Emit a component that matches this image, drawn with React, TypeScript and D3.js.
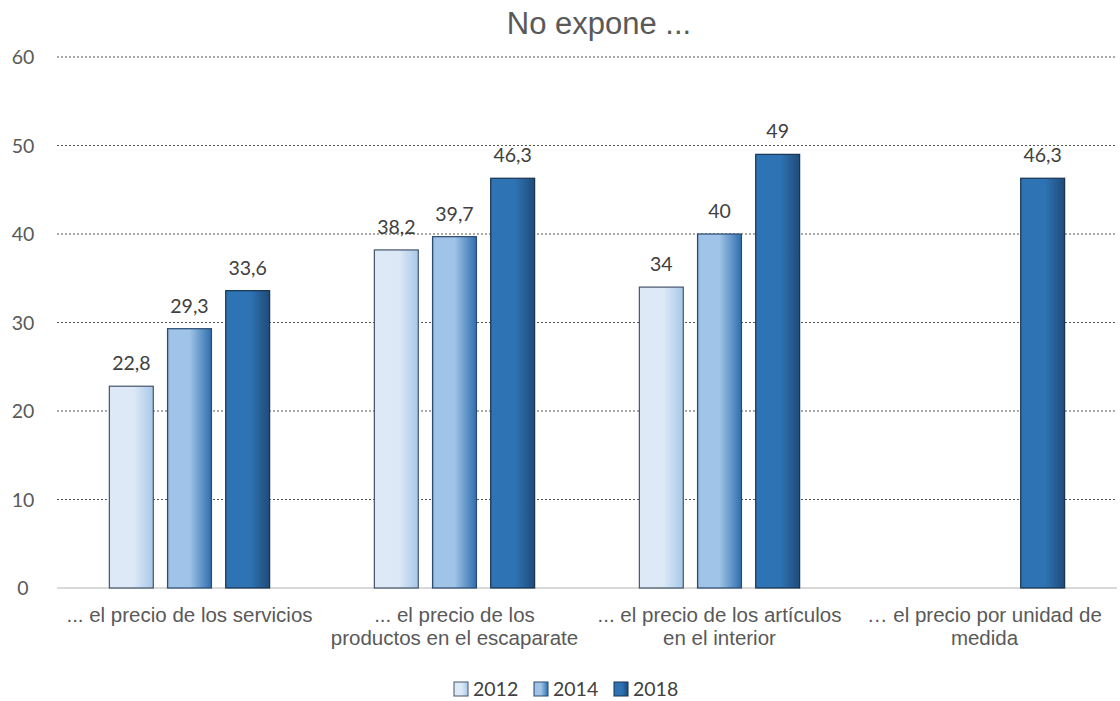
import React from "react";
import * as d3 from "d3";

const categories = [
  ["... el precio de los servicios"],
  ["... el precio de los", "productos en el escaparate"],
  ["... el precio de los artículos", "en el interior"],
  ["… el precio por unidad de", "medida"],
];
const seriesNames = ["2012", "2014", "2018"];
const v2012: (number | null)[] = [22.8, 38.2, 34, null];
const v2014: (number | null)[] = [29.3, 39.7, 40, null];
const v2018: (number | null)[] = [33.6, 46.3, 49, 46.3];
const yTicks = [0, 10, 20, 30, 40, 50, 60];

const W = 1120, H = 701;
const left = 57, right = 1117, top = 57, bottom = 588;

const grads = [
  { id: "g2012", stops: [["0%", "#dde9f6"], ["55%", "#dde9f6"], ["100%", "#a8c8e9"]], stroke: "#44546a" },
  { id: "g2014", stops: [["0%", "#7fa3c8"], ["5%", "#9fc4e7"], ["50%", "#9fc4e7"], ["100%", "#2f6eae"]], stroke: "#2a4a6e" },
  { id: "g2018", stops: [["0%", "#2e74b5"], ["55%", "#2e74b5"], ["100%", "#1f4b78"]], stroke: "#17324f" },
];

export default function App() {
  const x0 = d3.scaleBand<number>().domain(d3.range(categories.length)).range([left, right]);
  const x1 = d3.scaleBand<number>().domain([0, 1, 2]).range([0, x0.bandwidth()]).paddingInner(0.245).paddingOuter(0.9);
  const y = d3.scaleLinear().domain([0, 60]).range([bottom, top]);
  const series = [v2012, v2014, v2018];
  const fmt = (v: number) => String(v).replace(".", ",");
  return (
    <svg width={W} height={H} style={{ position: "absolute", left: 0, top: 0, background: "#fff" }}>
      <defs>
        {grads.map((g) => (
          <linearGradient key={g.id} id={g.id} x1="0" x2="1" y1="0" y2="0">
            {g.stops.map(([o, c], i) => <stop key={i} offset={o} stopColor={c} />)}
          </linearGradient>
        ))}
      </defs>
      <text x={599} y={34} textAnchor="middle" fontFamily="Liberation Sans, Arial" fontSize={31} fill="#595959">No expone ...</text>
      {yTicks.map((t) => (
        <g key={t}>
          {t > 0 && <line x1={left} x2={right} y1={y(t)} y2={y(t)} stroke="#555" strokeWidth={1} strokeDasharray="2,2" />}
          <text x={23} y={y(t) + 7} textAnchor="middle" fontFamily="Lato, Carlito, sans-serif" fontSize={19.5} fill="#595959">{t}</text>
        </g>
      ))}
      <line x1={left} x2={right} y1={bottom} y2={bottom} stroke="#d9d9d9" strokeWidth={2} />
      {series.map((s, si) =>
        s.map((v, ci) => {
          if (v == null) return null;
          const bx = x0(ci)! + x1(si)!;
          const bw = x1.bandwidth();
          return (
            <g key={`${si}-${ci}`}>
              <rect x={bx} y={y(v)} width={bw} height={bottom - y(v)} fill={`url(#${grads[si].id})`} stroke={grads[si].stroke} strokeWidth={1.2} />
              <text x={bx + bw / 2} y={y(v) - 16} textAnchor="middle" fontFamily="Lato, Carlito, sans-serif" fontSize={19.5} fill="#404040">{fmt(v)}</text>
            </g>
          );
        })
      )}
      {categories.map((lines, ci) => (
        <text key={ci} x={x0(ci)! + x0.bandwidth() / 2} y={622} textAnchor="middle" fontFamily="Liberation Sans, Arial" fontSize={20.5} fill="#595959">
          {lines.map((l, li) => <tspan key={li} x={x0(ci)! + x0.bandwidth() / 2} dy={li === 0 ? 0 : 23}>{l}</tspan>)}
        </text>
      ))}
      {seriesNames.map((n, i) => {
        const lx = 454 + i * 80;
        return (
          <g key={n}>
            <rect x={lx} y={682} width={14} height={14} fill={`url(#${grads[i].id})`} stroke={grads[i].stroke} strokeWidth={1} />
            <text x={lx + 19} y={696} fontFamily="Lato, Carlito, sans-serif" fontSize={19.5} fill="#404040">{n}</text>
          </g>
        );
      })}
    </svg>
  );
}
